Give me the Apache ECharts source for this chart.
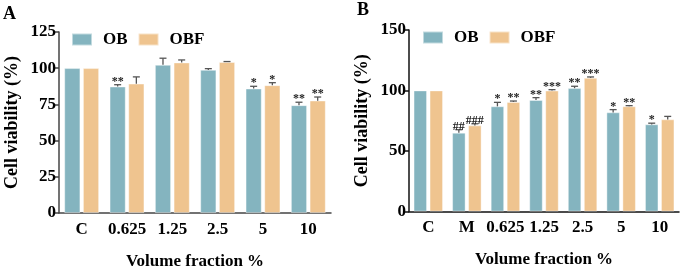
<!DOCTYPE html>
<html>
<head>
<meta charset="utf-8">
<script src="https://cdn.jsdelivr.net/npm/echarts@6/dist/echarts.min.js"></script>
<style>
  html, body { margin: 0; padding: 0; background: #fff; }
  #chart { width: 685px; height: 267px; }
</style>
</head>
<body>
<div id="chart"></div>
<script>
// panel A
const catsA = ['C', '0.625', '1.25', '2.5', '5', '10'];
const obA = [100, 87.3, 102.3, 98.8, 85.9, 74.4];
const obSdA = [0, 1.3, 4.6, 0.9, 1.6, 2.1];
const obfA = [100, 89.3, 103.9, 104.2, 88.2, 77.6];
const obfSdA = [0, 4.7, 1.8, 0.4, 1.8, 2.5];
const obMarkA = ['', '**', '', '', '*', '**'];
const obfMarkA = ['', '', '', '', '*', '**'];

// panel B
const catsB = ['C', 'M', '0.625', '1.25', '2.5', '5', '10'];
const obB = [100, 65.1, 86.9, 92.1, 101.9, 81.9, 72.0];
const obSdB = [0, 2.5, 3.3, 2.0, 1.6, 2.3, 1.0];
const obfB = [100, 71.1, 90.5, 99.9, 110.4, 86.9, 76.1];
const obfSdB = [0, 1.4, 0.8, 0.8, 0.8, 0.6, 2.5];
const obMarkB = ['', '##', '*', '**', '**', '*', '*'];
const obfMarkB = ['', '###', '**', '***', '***', '**', ''];

const ticksA = [0, 25, 50, 75, 100, 125];
const ticksB = [0, 50, 100, 150];

const OB_COLOR = '#84b4bf';
const OBF_COLOR = '#efc48f';
const FONT = 'Liberation Serif';

const chart = echarts.init(document.getElementById('chart'), null, { renderer: 'canvas' });

// bar layout per panel
const layout = [
  { bw: 16, gap: 2.7 },
  { bw: 13.3, gap: 2.7 }
];

function barSeries(name, idx, data, color) {
  return {
    type: 'bar',
    name: name,
    xAxisIndex: idx,
    yAxisIndex: idx,
    data: data,
    barWidth: layout[idx].bw,
    barGap: (layout[idx].gap / layout[idx].bw * 100).toFixed(1) + '%',
    itemStyle: { color: color, borderColor: 'rgba(255,255,255,0.5)', borderWidth: 0.8 },
    z: 2
  };
}

function errSeries(idx, means, sds, marks, side) {
  const { bw, gap } = layout[idx];
  return {
    type: 'custom',
    xAxisIndex: idx,
    yAxisIndex: idx,
    data: means.map((m, i) => [i, m + sds[i]]),
    encode: { x: 0, y: 1 },
    z: 3,
    silent: true,
    renderItem: (params, api) => {
      const i = params.dataIndex;
      const top = api.coord([i, means[i] + sds[i]]);
      const base = api.coord([i, means[i]]);
      const x = base[0] + side * (bw + gap) / 2;
      const children = [];
      if (sds[i] > 0) {
        children.push({
          type: 'line',
          shape: { x1: x, y1: base[1], x2: x, y2: top[1] },
          style: { stroke: '#555', lineWidth: 1.3 }
        });
        children.push({
          type: 'line',
          shape: { x1: x - 3.5, y1: top[1], x2: x + 3.5, y2: top[1] },
          style: { stroke: '#555', lineWidth: 1.3 }
        });
      }
      if (marks[i]) {
        children.push({
          type: 'text',
          style: {
            x: x, y: top[1] + 3,
            text: marks[i],
            fill: '#222',
            font: 'bold 12px "Liberation Serif"',
            align: 'center',
            verticalAlign: 'bottom'
          }
        });
      }
      return { type: 'group', children: children };
    }
  };
}

function xAxisCfg(idx, cats) {
  const col = idx === 0 ? '#444' : '#111';
  return {
    type: 'category',
    gridIndex: idx,
    data: cats,
    name: 'Volume fraction %',
    nameLocation: 'middle',
    nameGap: 40,
    nameTextStyle: { fontFamily: FONT, fontWeight: 'bold', fontSize: 17, color: '#000' },
    axisLine: { lineStyle: { color: col, width: 1.5 } },
    axisTick: { alignWithLabel: true, length: 4, lineStyle: { color: col, width: 1.5 } },
    axisLabel: { fontFamily: FONT, fontWeight: 'bold', fontSize: 17, color: '#000', margin: 8, interval: 0 }
  };
}

function yAxisCfg(idx, ticks) {
  const col = idx === 0 ? '#444' : '#111';
  const step = ticks[1] - ticks[0];
  return {
    type: 'value',
    gridIndex: idx,
    min: ticks[0],
    max: ticks[ticks.length - 1],
    interval: step,
    name: 'Cell viability (%)',
    nameLocation: 'middle',
    nameGap: 38,
    nameTextStyle: { fontFamily: FONT, fontWeight: 'bold', fontSize: 18, color: '#000' },
    splitLine: { show: false },
    axisLine: { show: true, lineStyle: { color: col, width: 1.5 } },
    axisTick: { show: true, length: 4, lineStyle: { color: col, width: 1.5 } },
    axisLabel: { fontFamily: FONT, fontWeight: 'bold', fontSize: 17, color: '#000', margin: 3 }
  };
}

function legendCfg(left, top) {
  return {
    left: left,
    top: top,
    padding: 0,
    data: ['OB', 'OBF'],
    icon: 'rect',
    itemWidth: 20,
    itemHeight: 12,
    itemGap: 10,
    selectedMode: false,
    textStyle: { fontFamily: FONT, fontWeight: 'bold', fontSize: 17, color: '#000', padding: [0, 0, 0, 6] }
  };
}

chart.setOption({
  animation: false,
  backgroundColor: '#fff',
  grid: [
    { left: 59, top: 32, width: 272, height: 181, outerBoundsMode: 'none', containLabel: false },
    { left: 409, top: 30, width: 270, height: 181.5, outerBoundsMode: 'none', containLabel: false }
  ],
  xAxis: [xAxisCfg(0, catsA), xAxisCfg(1, catsB)],
  yAxis: [yAxisCfg(0, ticksA), yAxisCfg(1, ticksB)],
  legend: [legendCfg(71, 31), legendCfg(422, 29)],
  graphic: [
    { type: 'text', left: 3, top: 5, style: { text: 'A', font: 'bold 18px "Liberation Serif"', fill: '#000' } },
    { type: 'text', left: 357, top: 1, style: { text: 'B', font: 'bold 18px "Liberation Serif"', fill: '#000' } }
  ],
  series: [
    barSeries('OB', 0, obA, OB_COLOR),
    barSeries('OBF', 0, obfA, OBF_COLOR),
    errSeries(0, obA, obSdA, obMarkA, -1),
    errSeries(0, obfA, obfSdA, obfMarkA, 1),
    barSeries('OB', 1, obB, OB_COLOR),
    barSeries('OBF', 1, obfB, OBF_COLOR),
    errSeries(1, obB, obSdB, obMarkB, -1),
    errSeries(1, obfB, obfSdB, obfMarkB, 1)
  ]
});
</script>
</body>
</html>
